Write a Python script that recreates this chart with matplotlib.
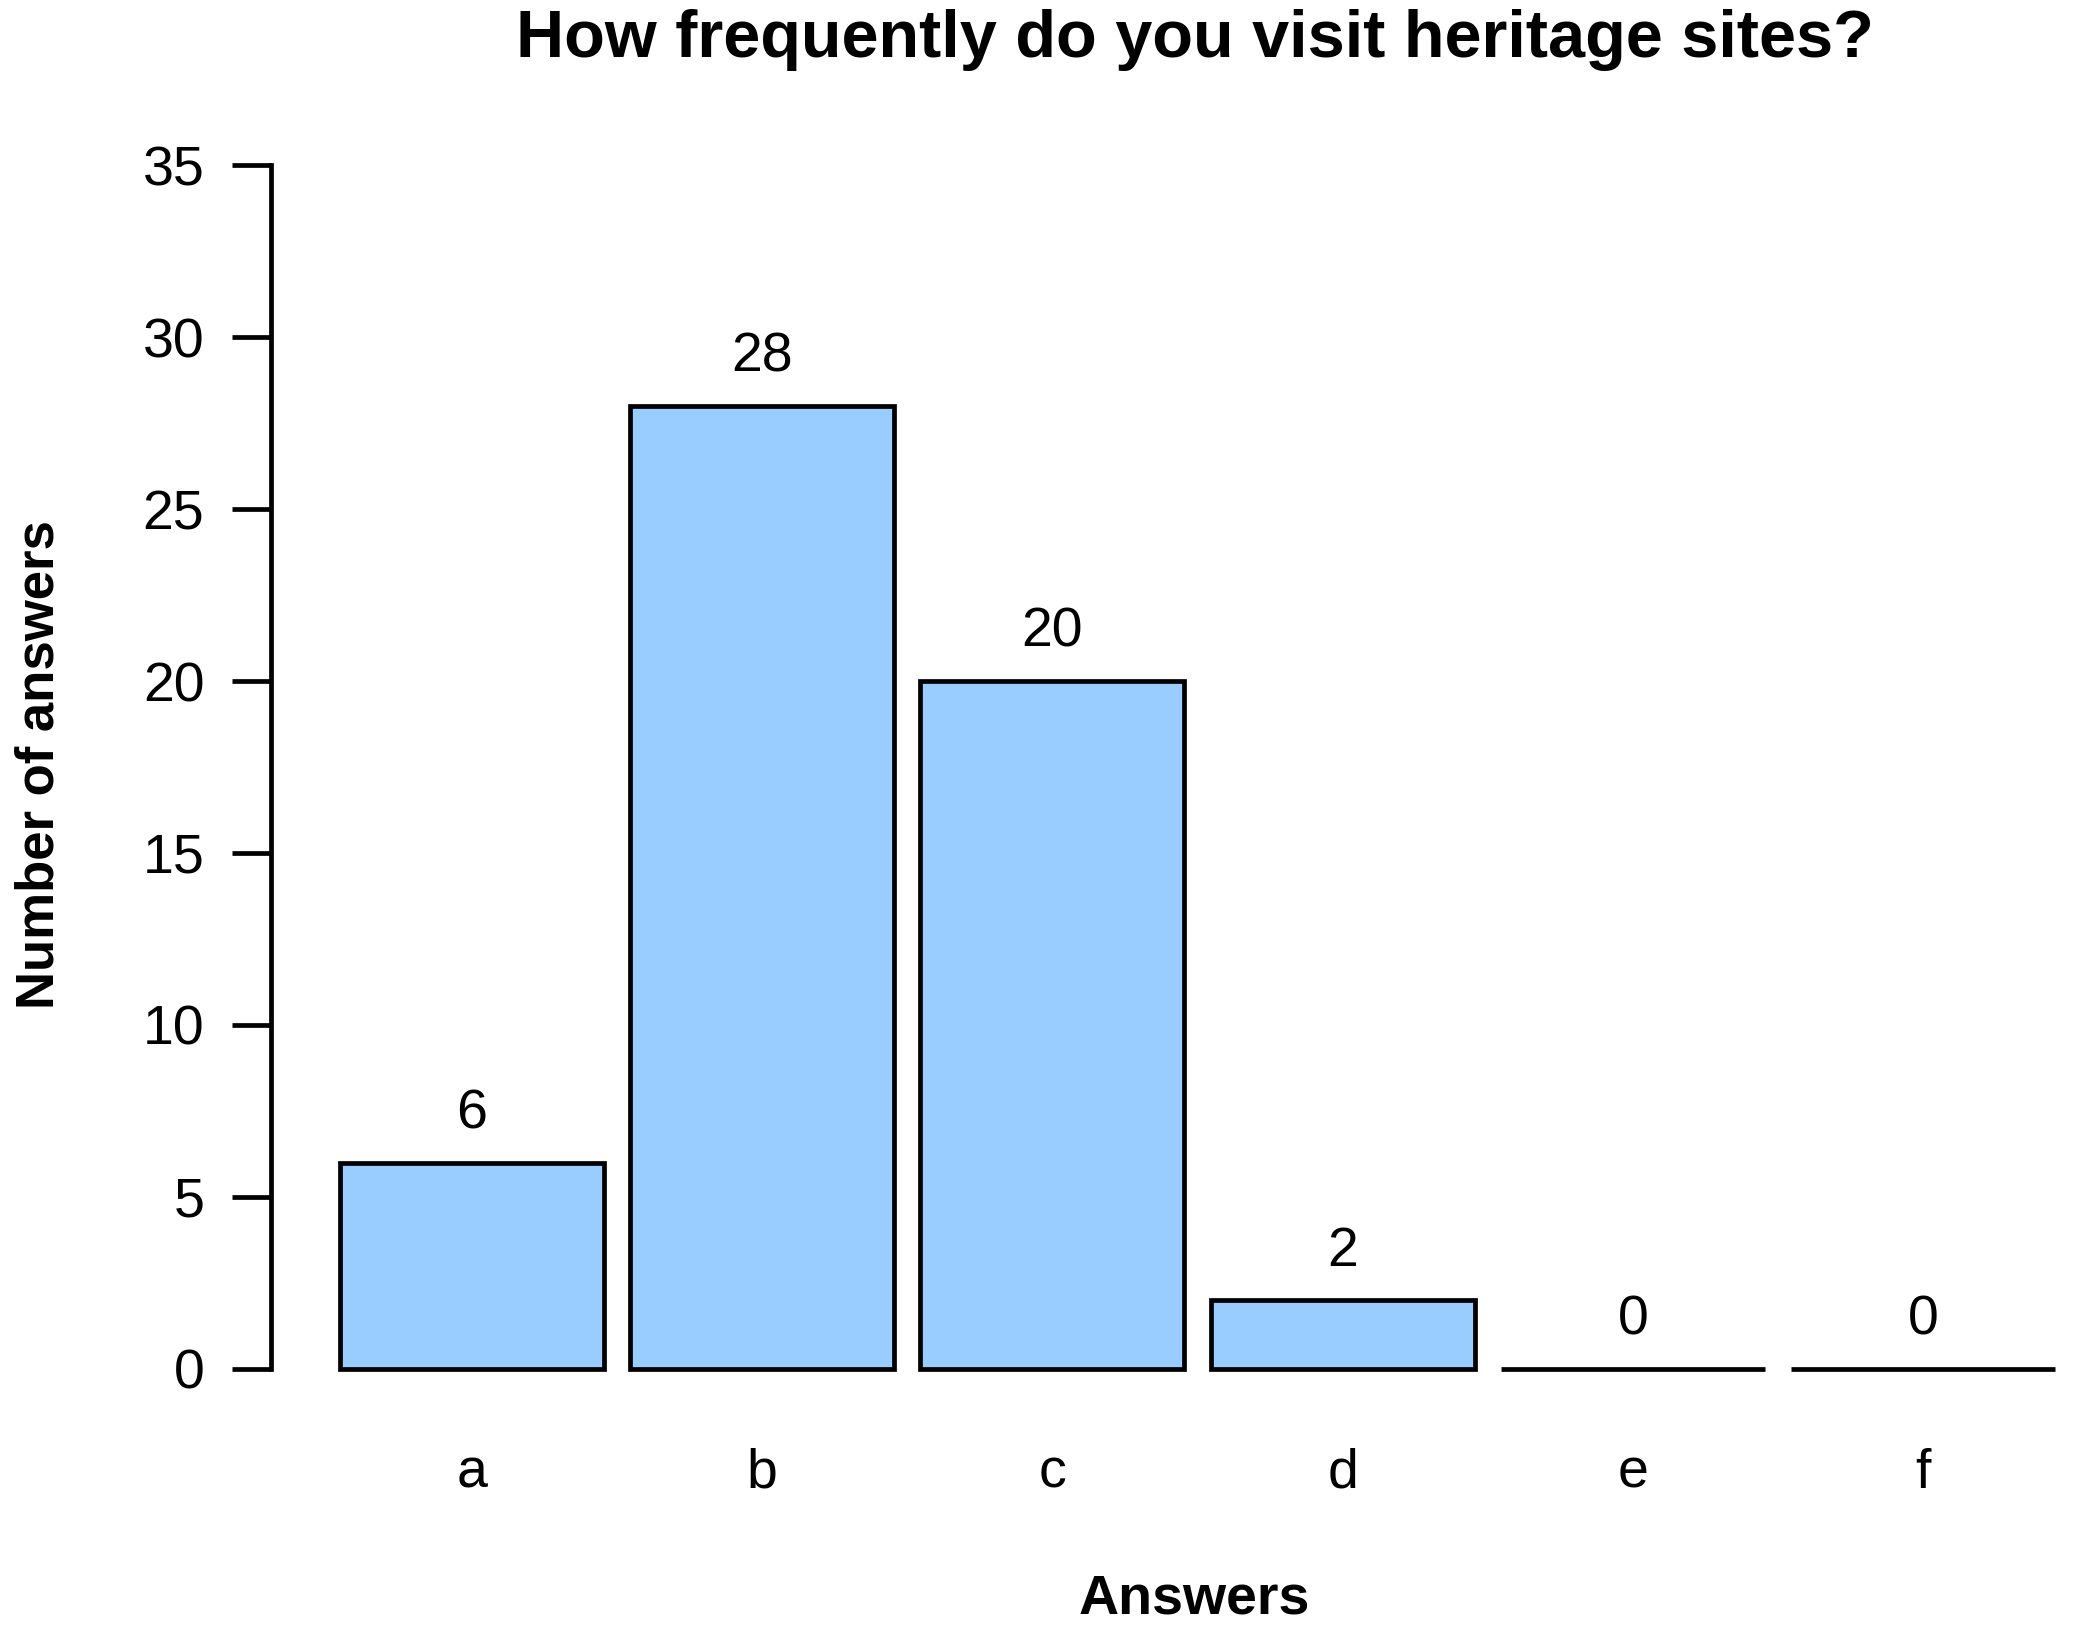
import matplotlib
matplotlib.use("Agg")
import matplotlib.pyplot as plt

categories = ['a', 'b', 'c', 'd', 'e', 'f']
counts = [6, 28, 20, 2, 0, 0]
y_ticks = [0, 5, 10, 15, 20, 25, 30, 35]

fig = plt.figure(figsize=(20.74, 16.37), dpi=100)
ax = fig.add_axes([0.1307, 0.1344, 0.8933, 0.7941])

# R style barplot: width 1, space 0.1
pos = [0.1 + 1.1 * i + 0.5 for i in range(len(categories))]
ax.bar(pos, counts, width=1.0, color='#99CCFF', edgecolor='black', linewidth=3.4)

for x, v in zip(pos, counts):
    ax.text(x, v + 1.4, str(v), ha='center', va='center', fontsize=40,
            family='Liberation Sans')

ax.set_xlim(-0.16, 6.86)
ax.set_ylim(-1.4, 36.4)

for s in ['top', 'right', 'bottom']:
    ax.spines[s].set_visible(False)
ax.spines['left'].set_bounds(0, 35)
ax.spines['left'].set_linewidth(3.4)

ax.set_yticks(y_ticks)
ax.set_yticklabels([str(t) for t in y_ticks], family='Liberation Sans', fontsize=40)
ax.tick_params(axis='y', length=28, width=3.4, pad=20)

ax.set_xticks(pos)
ax.set_xticklabels(categories, family='Liberation Sans', fontsize=40)
ax.tick_params(axis='x', length=0, pad=22)

fig.text(0.576, 1 - 40 / 1637, 'How frequently do you visit heritage sites?',
         ha='center', va='center', fontsize=48, fontweight='bold', family='Liberation Sans')
fig.text(0.576, 1 - 1600 / 1637, 'Answers', ha='center', va='center',
         fontsize=40, fontweight='bold', family='Liberation Sans')
fig.text(40 / 2074, 1 - 765 / 1637, 'Number of answers', ha='center', va='center',
         rotation=90, fontsize=38, fontweight='bold', family='Liberation Sans')

fig.savefig('out.png', dpi=100)
